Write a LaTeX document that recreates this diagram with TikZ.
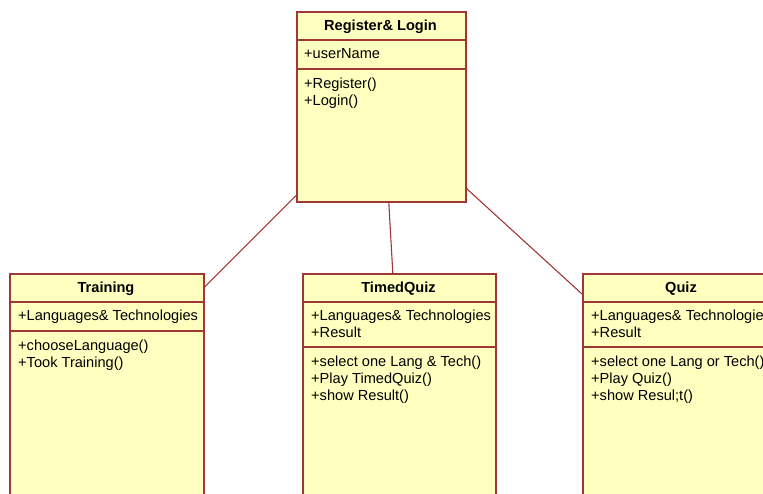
\documentclass[tikz,border=0pt]{standalone}
\usepackage{fontspec}
\setmainfont{Liberation Sans}
\usetikzlibrary{calc}
\definecolor{umlline}{RGB}{160,55,55}
\definecolor{umlfill}{RGB}{255,255,192}
\begin{document}
\begin{tikzpicture}[x=1pt,y=-1pt,
  cls/.style={draw=umlline,fill=umlfill,line width=1.6pt,inner sep=0pt,anchor=north west},
  sep/.style={draw=umlline,line width=1.3pt},
  conn/.style={draw=umlline,line width=1.1pt},
  ttl/.style={anchor=base,inner sep=0pt,font=\fontsize{14.6}{17}\selectfont\bfseries},
  txt/.style={anchor=base west,inner sep=0pt,font=\fontsize{14.6}{17}\selectfont}]
\useasboundingbox (0,0) rectangle (763,493);
\clip (0,0) rectangle (763,493);
% boxes
\node[cls,minimum width=169pt,minimum height=190pt] (reg) at (296,11) {};
\node[cls,minimum width=194pt,minimum height=250pt] (tr) at (9,273) {};
\node[cls,minimum width=193pt,minimum height=250pt] (tq) at (302,273) {};
\node[cls,minimum width=220pt,minimum height=250pt] (qz) at (582,273) {};
% separators
\draw[sep] (296,40) -- (465,40);
\draw[sep] (296,69) -- (465,69);
\draw[sep] (9,302) -- (203,302);
\draw[sep] (9,331) -- (203,331);
\draw[sep] (302,302) -- (495,302);
\draw[sep] (302,347) -- (495,347);
\draw[sep] (582,302) -- (802,302);
\draw[sep] (582,347) -- (802,347);
% Register & Login
\node[ttl] (regt) at (380.5,30) {Register\& Login};
\node[txt] (rega) at (304,58) {+userName};
\node[txt] (rego1) at (304,88) {+Register()};
\node[txt] (rego2) at (304,105) {+Login()};
% Training
\node[ttl] (trt) at (106,292) {Training};
\node[txt] (tra) at (18,320) {+Languages\& Technologies};
\node[txt] (tro1) at (18,350) {+chooseLanguage()};
\node[txt] (tro2) at (18,367) {+Took Training()};
% TimedQuiz
\node[ttl] (tqt) at (398.5,292) {TimedQuiz};
\node[txt] (tqa1) at (311,320) {+Languages\& Technologies};
\node[txt] (tqa2) at (311,337) {+Result};
\node[txt] (tqo1) at (311,366) {+select one Lang \& Tech()};
\node[txt] (tqo2) at (311,383) {+Play TimedQuiz()};
\node[txt] (tqo3) at (311,400) {+show Result()};
% Quiz
\node[ttl] (qzt) at (681,292) {Quiz};
\node[txt] (qza1) at (591,320) {+Languages\& Technologies};
\node[txt] (qza2) at (591,337) {+Result};
\node[txt] (qzo1) at (591,366) {+select one Lang or Tech()};
\node[txt] (qzo2) at (591,383) {+Play Quiz()};
\node[txt] (qzo3) at (591,400) {+show Resul;t()};
% connectors
\coordinate (c1a) at ($(tr.north east)+(0,14)$);
\coordinate (c1b) at ($(reg.south west)+(0,-7)$);
\coordinate (c2a) at ($(reg.south)+(7.5,0)$);
\coordinate (c2b) at ($(tq.north)+(-6.5,0)$);
\coordinate (c3a) at ($(reg.south east)+(0,-14)$);
\coordinate (c3b) at ($(qz.north west)+(0,21)$);
\draw[conn] (c1a) -- (c1b);
\draw[conn] (c2a) -- (c2b);
\draw[conn] (c3a) -- (c3b);
\end{tikzpicture}
\end{document}
